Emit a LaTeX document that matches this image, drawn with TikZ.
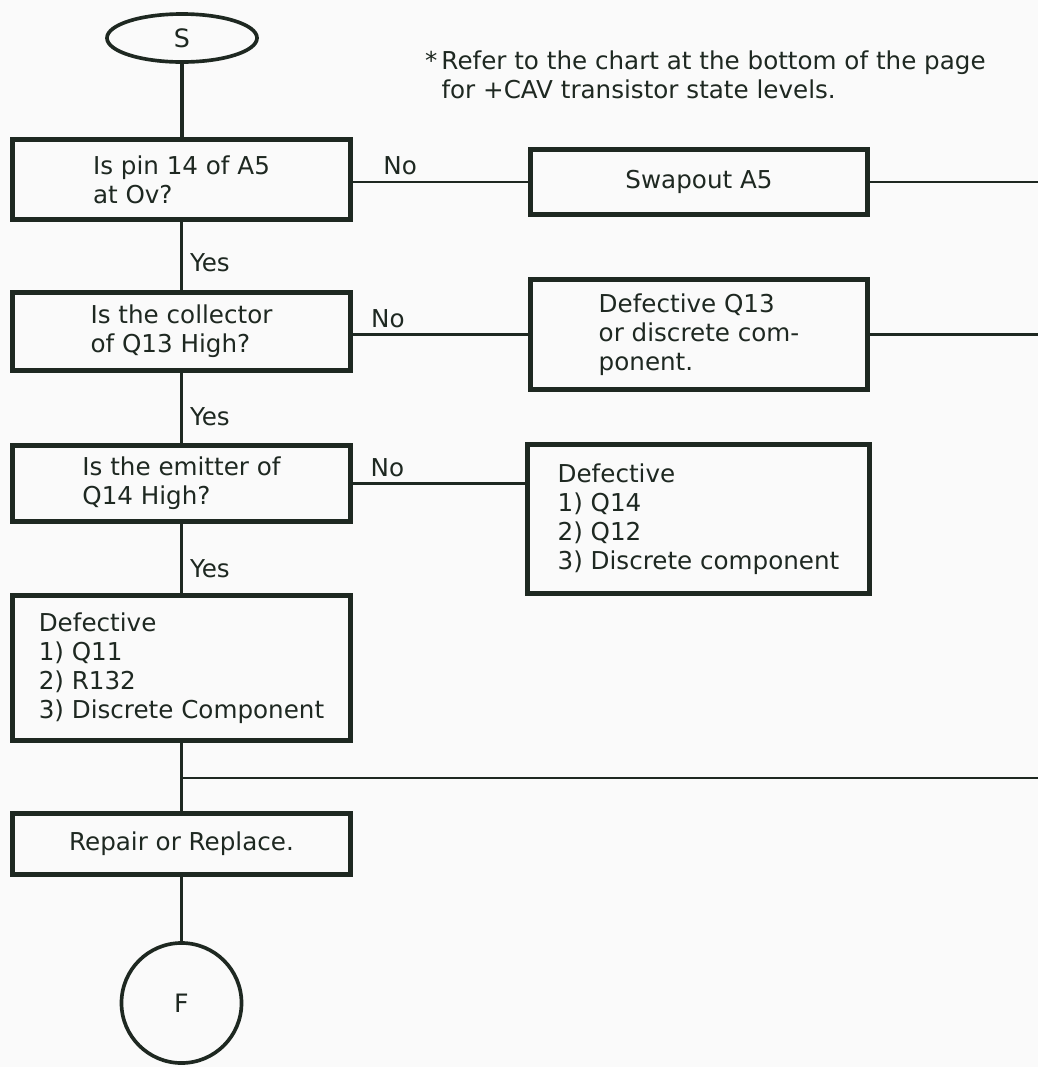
\documentclass[tikz,border=0pt]{standalone}
\usepackage{fontspec}
\setmainfont{DejaVu Sans}
\usepackage{tikz}
\usetikzlibrary{arrows.meta,positioning,calc,shapes.geometric}
\definecolor{inkdark}{RGB}{30,40,33}
\definecolor{paper}{RGB}{250,250,250}
\tikzset{
  stepbox/.style={draw=inkdark,line width=3.4pt,align=left,text=inkdark,
    minimum width=8.45cm,inner sep=0pt,font=\fontsize{17.5}{20.5}\selectfont},
  termnode/.style={draw=inkdark,line width=2.6pt,text=inkdark,inner sep=0pt,
    font=\fontsize{18}{21}\selectfont},
  flowline/.style={draw=inkdark,line width=2.1pt},
  branchlabel/.style={text=inkdark,inner sep=2pt,font=\fontsize{17.5}{20.5}\selectfont}
}

\begin{document}
\begin{tikzpicture}[x=0.025cm,y=-0.025cm]
  \fill[paper] (0,0) rectangle (1038,1067);
  \useasboundingbox (0,0) rectangle (1038,1067);

  % main column
  \node[termnode,ellipse,minimum width=3.75cm,minimum height=1.2cm] (start) at (182,38) {S};
  \node[stepbox,minimum height=2.0cm] (pin) at (181.5,179.5) {Is pin 14 of A5\\at Ov?};
  \node[stepbox,minimum height=1.95cm] (collector) at (181.5,331.5) {Is the collector\\of Q13 High?};
  \node[stepbox,minimum height=1.9cm] (emitter) at (181.5,483.5) {Is the emitter of\\Q14 High?};
  \node[stepbox,minimum height=3.625cm] (defQ11) at (181.5,668) {Defective\\1) Q11\\2) R132\\3) Discrete Component};
  \node[stepbox,minimum height=1.525cm] (repair) at (181.5,844) {Repair or Replace.};
  \node[termnode,circle,minimum size=3.0cm] (finish) at (181.5,1003) {F};

  % right column
  \node[stepbox,minimum width=8.43cm,minimum height=1.625cm] (swap) at (699,182) {Swapout A5};
  \node[stepbox,minimum width=8.43cm,minimum height=2.75cm] (defQ13) at (699,334.5) {Defective Q13\\or discrete com-\\ponent.};
  \node[stepbox,minimum width=8.55cm,minimum height=3.725cm] (defQ14) at (698.5,519) {Defective\\1) Q14\\2) Q12\\3) Discrete component};

  \node[branchlabel,anchor=west,align=left] (note) at (422,75)
    {*\,Refer to the chart at the bottom of the page\\\phantom{*\,}for +CAV transistor state levels.};

  \coordinate (exitA) at (1038,182);
  \coordinate (exitB) at (1038,334.5);
  \coordinate (merge) at (181.5,778);
  \coordinate (exitC) at (1038,778);

  \draw[flowline,line width=2.4pt] (start.south) -- (start.south |- pin.north);
  \draw[flowline] (pin.south) -- node[branchlabel,right,pos=0.6,xshift=3pt] {Yes} (collector.north);
  \draw[flowline] (collector.south) -- node[branchlabel,right,pos=0.62,xshift=3pt] {Yes} (emitter.north);
  \draw[flowline] (emitter.south) -- node[branchlabel,right,pos=0.65,xshift=3pt] {Yes} (defQ11.north);
  \draw[flowline] (swap.west -| pin.east) -- node[branchlabel,above,pos=0.27,yshift=2pt] {No} (swap.west);
  \draw[flowline] (defQ13.west -| collector.east) -- node[branchlabel,above,pos=0.2,yshift=2pt] {No} (defQ13.west);
  \draw[flowline] (emitter.east) -- node[branchlabel,above,pos=0.2,yshift=2pt] {No} (emitter.east -| defQ14.west);
  \draw[flowline] (swap.east) -- (exitA);
  \draw[flowline] (defQ13.east) -- (exitB);
  \draw[flowline] (defQ11.south) -- (repair.north);
  \draw[flowline] (merge) -- (exitC);
  \draw[flowline,line width=2.4pt] (repair.south) -- (finish.north);
\end{tikzpicture}
\end{document}
